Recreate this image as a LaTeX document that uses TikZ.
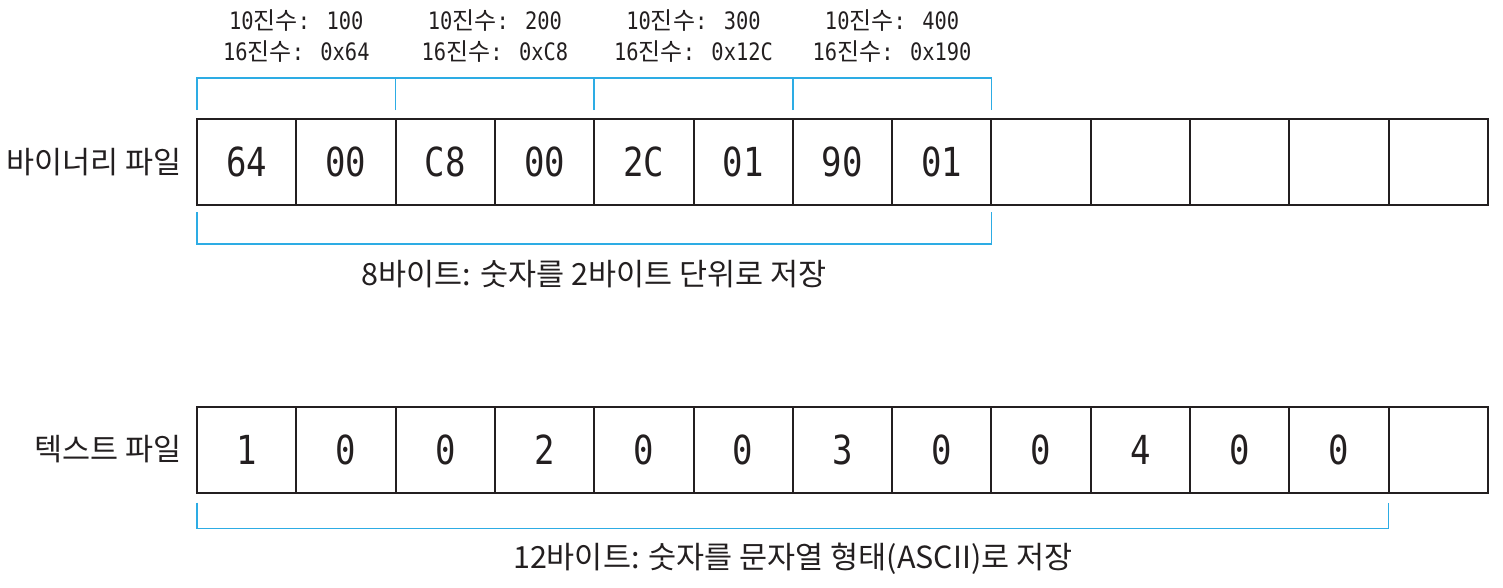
\documentclass[tikz,border=0pt]{standalone}
\usepackage{fontspec}
\usetikzlibrary{calc}
\setmainfont{Noto Sans CJK KR}
\newfontfamily\monof[FakeStretch=0.85]{DejaVu Sans Mono}
\definecolor{ink}{RGB}{35,31,32}
\definecolor{brk}{RGB}{45,172,228}
\newcommand{\toplab}[2]{{\monof 10}진수{\monof : #1}\\{\monof 16}진수{\monof : #2}}
\begin{document}
\begin{tikzpicture}[x=1pt,y=-1pt,
  cell/.style={draw=ink,line width=2pt,minimum width=99.3pt,minimum height=86pt,inner sep=0pt,outer sep=0pt,font=\monof\fontsize{40}{40}\selectfont,text=ink},
  brace/.style={draw=brk,line width=1.6pt},
  rowlab/.style={anchor=east,font=\fontsize{30.5}{30.5}\selectfont,text=ink,inner sep=0pt},
  toplabel/.style={align=center,font=\fontsize{24}{31}\selectfont,text=ink,inner sep=0pt},
  botlabel/.style={font=\fontsize{30.5}{30.5}\selectfont,text=ink,inner sep=0pt}]
\useasboundingbox (0,0) rectangle (1503,587);
% top row
\foreach \i/\t in {1/64,2/00,3/C8,4/00,5/2C,6/01,7/90,8/01,9/,10/,11/,12/,13/}{
  \node[cell] (b\i) at ({197+99.3*(\i-0.5)},162) {\t};
}
% bottom row
\foreach \i/\t in {1/1,2/0,3/0,4/2,5/0,6/0,7/3,8/0,9/0,10/4,11/0,12/0,13/}{
  \node[cell] (t\i) at ({197+99.3*(\i-0.5)},449.5) {\t};
}
\node[rowlab] (lb) at (182,162) {바이너리 파일};
\node[rowlab] (lt) at (182,449.5) {텍스트 파일};
% top braces
\draw[brace] ([yshift=9pt]b1.north west) -- ([yshift=41pt]b1.north west) -- ([yshift=41pt]b8.north east) -- ([yshift=9pt]b8.north east);
\foreach \j in {2,4,6}{
  \draw[brace] ([yshift=9pt]b\j.north east) -- ([yshift=41pt]b\j.north east);
}
% top labels
\node[toplabel] (l1) at ($(b1.north east)+(0,-83)$) {\toplab{100}{0x64}};
\node[toplabel] (l2) at ($(b3.north east)+(0,-83)$) {\toplab{200}{0xC8}};
\node[toplabel] (l3) at ($(b5.north east)+(0,-83)$) {\toplab{300}{0x12C}};
\node[toplabel] (l4) at ($(b7.north east)+(0,-83)$) {\toplab{400}{0x190}};
% bottom brace of top row
\draw[brace] ([yshift=-7pt]b1.south west) -- ([yshift=-39pt]b1.south west) -- ([yshift=-39pt]b8.south east) -- ([yshift=-7pt]b8.south east);
\node[botlabel] (d1) at ($(b4.south east)+(0,69)$) {8바이트: 숫자를 2바이트 단위로 저장};
% bottom brace of bottom row
\draw[brace] ([yshift=-10pt]t1.south west) -- ([yshift=-36pt]t1.south west) -- ([yshift=-36pt]t12.south east) -- ([yshift=-10pt]t12.south east);
\node[botlabel] (d2) at ($(t6.south east)+(0,66)$) {12바이트: 숫자를 문자열 형태(ASCII)로 저장};
\end{tikzpicture}
\end{document}
